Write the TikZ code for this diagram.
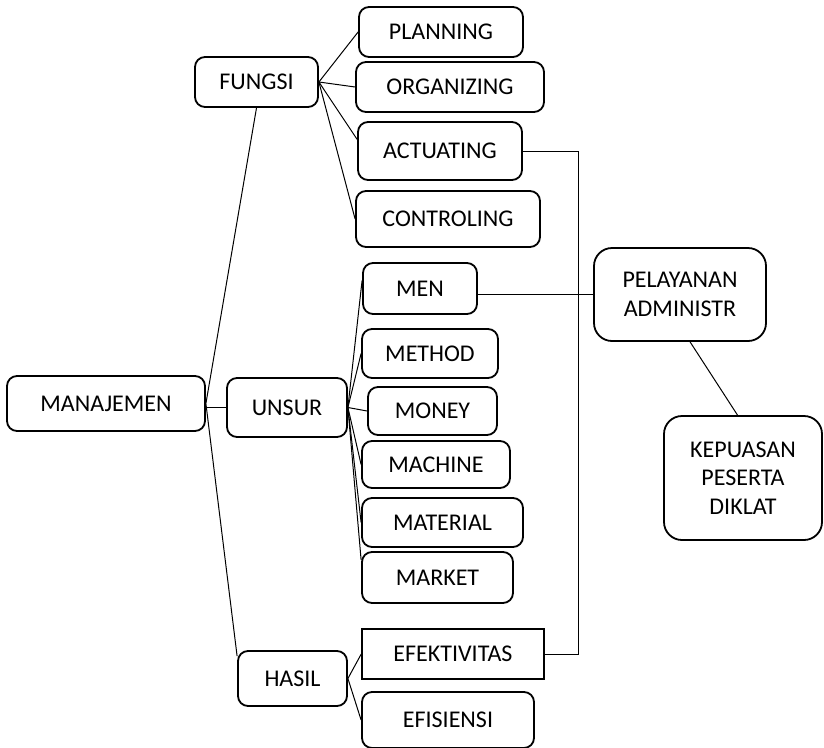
\documentclass[tikz,border=0pt]{standalone}
\usepackage{fontspec}
\setmainfont{Carlito}
\usetikzlibrary{positioning}
\usetikzlibrary{calc}
\tikzset{
  box/.style={draw, line width=1.8pt, rounded corners=10pt, fill=white,
    align=center, inner sep=0pt, font=\fontsize{24}{28.5}\selectfont},
  sharpbox/.style={box, rounded corners=0pt, line width=1.5pt},
  bigbox/.style={box, rounded corners=18pt},
  link/.style={draw, line width=1pt}
}

\begin{document}
\begin{tikzpicture}[x=1pt, y=-1pt]
  \useasboundingbox (0,0) rectangle (824,747);

  \node[box, minimum width=198, minimum height=55] (manajemen) at (106,403.5) {MANAJEMEN};
  \node[box, minimum width=123, minimum height=50] (fungsi) at (256.5,82) {FUNGSI};
  \node[box, minimum width=120, minimum height=59] (unsur) at (287,407.5) {UNSUR};
  \node[box, minimum width=109, minimum height=55] (hasil) at (292.5,678.5) {HASIL};

  \node[box, minimum width=164, minimum height=50] (planning) at (441,32) {PLANNING};
  \node[box, minimum width=188, minimum height=50] (organizing) at (450,87) {ORGANIZING};
  \node[box, minimum width=164, minimum height=58] (actuating) at (440,151) {ACTUATING};
  \node[box, minimum width=184, minimum height=56] (controling) at (448,219) {CONTROLING};

  \node[box, minimum width=114, minimum height=51] (men) at (420,288.5) {MEN};
  \node[box, minimum width=136, minimum height=49] (method) at (430,353.5) {METHOD};
  \node[box, minimum width=129, minimum height=48] (money) at (432.5,411) {MONEY};
  \node[box, minimum width=148, minimum height=47] (machine) at (436,464.5) {MACHINE};
  \node[box, minimum width=161, minimum height=49] (material) at (442.5,522.5) {MATERIAL};
  \node[box, minimum width=151, minimum height=51] (market) at (437.5,577.5) {MARKET};

  \node[sharpbox, minimum width=182, minimum height=50] (efektivitas) at (453,654) {EFEKTIVITAS};
  \node[box, minimum width=172, minimum height=56] (efisiensi) at (448,720) {EFISIENSI};

  \node[bigbox, minimum width=172, minimum height=93] (pelayanan) at (680,294.5) {PELAYANAN\\ADMINISTR};
  \node[bigbox, minimum width=158, minimum height=124] (kepuasan) at (743,478) {KEPUASAN\\PESERTA\\DIKLAT};

  \draw[link] (unsur.west) -- (unsur.west -| manajemen.east);
  \draw[link] (fungsi.south) -- (manajemen.east);
  \draw[link] (manajemen.east) -- (hasil.158);

  \draw[link] (fungsi.east) -- (planning.west);
  \draw[link] (fungsi.east) -- (organizing.west);
  \draw[link] (fungsi.east) -- (actuating.172);
  \draw[link] (fungsi.east) -- (controling.west);

  \draw[link] (unsur.east) -- (men.172);
  \draw[link] (unsur.east) -- (method.west);
  \draw[link] (unsur.east) -- (money.west);
  \draw[link] (unsur.east) -- (machine.west);
  \draw[link] (unsur.east) -- (material.west);
  \draw[link] (unsur.east) -- (market.167);

  \draw[link] (hasil.east) -- (efektivitas.west);
  \draw[link] (hasil.east) -- (efisiensi.west);

  \draw[link] (actuating.east) -- ++(56,0) |- (efektivitas.east);
  \draw[link] (pelayanan.west) -- (pelayanan.west -| men.east);
  \draw[link] (pelayanan.-78) -- (kepuasan.95);
\end{tikzpicture}
\end{document}
